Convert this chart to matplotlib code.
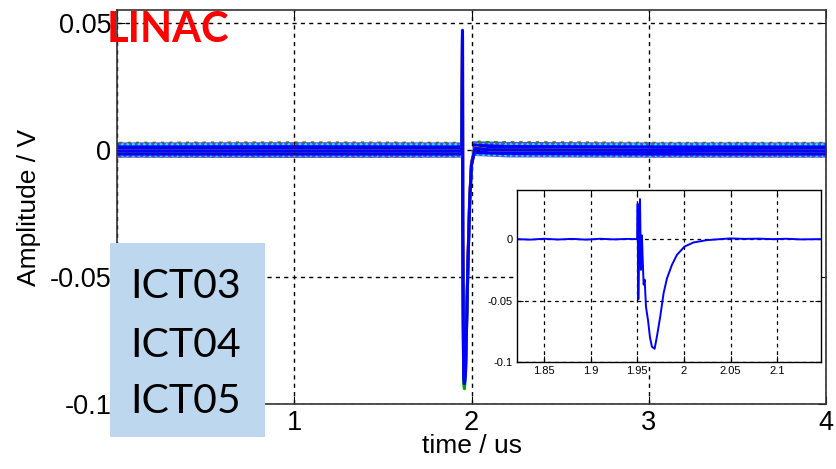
import matplotlib
matplotlib.use("Agg")
import matplotlib.pyplot as plt
from matplotlib.patches import Rectangle

plt.rcParams['font.family'] = ['Liberation Sans', 'DejaVu Sans']
plt.rcParams['hatch.linewidth'] = 1.2

# main traces (time in us, amplitude in V), one per scope channel
t_main = [0.0, 1.945, 1.9492, 1.9505, 1.953, 1.956, 1.960, 1.966, 1.972, 1.980, 1.990, 2.000, 2.02, 2.1, 4.0]
channels = {
    'cyan':    [-0.0005, -0.0005, 0.046, -0.035, -0.062, -0.089, -0.091, -0.087, -0.069, -0.044, -0.019, -0.005, 0.0008, 0.0, -0.0005],
    'red':     [-0.0005, -0.0005, 0.044, -0.032, -0.060, -0.088, -0.090, -0.086, -0.068, -0.043, -0.019, -0.005, 0.0008, 0.0, -0.0005],
    'magenta': [-0.0005, -0.0005, 0.045, -0.033, -0.061, -0.090, -0.092, -0.087, -0.069, -0.044, -0.020, -0.006, 0.0007, 0.0, -0.0005],
    '#00a000': [-0.0005, -0.0005, 0.043, -0.034, -0.063, -0.092, -0.094, -0.089, -0.070, -0.045, -0.020, -0.006, 0.0007, 0.0, -0.0005],
    'blue':    [-0.0005, -0.0005, 0.047, -0.030, -0.060, -0.090, -0.092, -0.088, -0.070, -0.045, -0.020, -0.006, 0.0005, 0.0, -0.0005],
}
hatches = {'cyan': '...', 'red': '..', 'magenta': '. .', '#00a000': '..'}

# noise envelope of the baseline
band_t_pre = [0.0, 1.0, 1.946]
band_t_post = [2.004, 2.2, 3.0, 4.0]
band_hi_pre = [0.0031, 0.0032, 0.0031]
band_lo_pre = [-0.0029, -0.0030, -0.0029]
band_hi_post = [0.0036, 0.0033, 0.0031, 0.0031]
band_lo_post = [-0.0022, -0.0028, -0.0029, -0.0029]
blue_hi_pre = [0.0019, 0.0020, 0.0019]
blue_lo_pre = [-0.0021, -0.0021, -0.0021]
blue_hi_post = [0.0026, 0.0021, 0.0019, 0.0019]
blue_lo_post = [-0.0014, -0.0019, -0.0021, -0.0021]

# zoomed single pulse (inset)
inset_t = [1.821, 1.835, 1.85, 1.865, 1.88, 1.895, 1.91, 1.925, 1.94, 1.950, 1.9504, 1.9507, 1.9511,
           1.9518, 1.9529, 1.9539, 1.955, 1.9557, 1.9568, 1.9579, 1.9593, 1.9615, 1.9636, 1.9657, 1.9686,
           1.9711, 1.9746, 1.9782, 1.9818, 1.9871, 1.9925, 2.0007, 2.0103, 2.0246, 2.0389, 2.05, 2.065,
           2.08, 2.095, 2.11, 2.125, 2.147]
inset_v = [0.0, -0.0004, 0.0003, -0.0003, 0.0002, -0.0004, 0.0003, -0.0002, 0.0002, 0.0, 0.0288, -0.0169, -0.049,
           -0.020, 0.0326, -0.025, 0.0030, -0.014, -0.037, -0.033, -0.055, -0.066, -0.080, -0.0876, -0.0892,
           -0.079, -0.063, -0.044, -0.032, -0.021, -0.0128, -0.006, -0.0027, -0.0008, 0.0, 0.0006, 0.0002,
           0.0004, 0.0, 0.0003, -0.0002, 0.0]

fig = plt.figure(figsize=(8.36, 4.69), dpi=100)
ax = fig.add_axes([117/836, 1-404/469, 709/836, 394/469])

# mixed-colour speckle at the edges of the noise band
for tt, lo, hi in [(band_t_pre, band_lo_pre, band_hi_pre), (band_t_post, band_lo_post, band_hi_post)]:
    ax.fill_between(tt, lo, hi, color='#5050e0', lw=0)
    for c, h in hatches.items():
        ax.fill_between(tt, lo, hi, facecolor='none', edgecolor=c, hatch=h, lw=0)

for c, v in channels.items():
    if c != 'blue':
        ax.plot(t_main, v, color=c, lw=2.2)
ax.fill_between(band_t_pre, blue_lo_pre, blue_hi_pre, color='blue', lw=0)
ax.fill_between(band_t_post, blue_lo_post, blue_hi_post, color='blue', lw=0)
ax.plot(t_main, channels['blue'], color='blue', lw=2.2)

ax.set_xlim(0, 4)
ax.set_ylim(-0.1, 0.055)
ax.set_xticks([0, 1, 2, 3, 4])
ax.set_xticklabels(['0', '1', '2', '3', '4'])
ax.set_yticks([-0.1, -0.05, 0, 0.05])
ax.set_yticklabels(['-0.1', '-0.05', '0', '0.05'])
ax.tick_params(direction='in', labelsize=19.5, length=6, top=True, right=True, pad=4)
ax.grid(True, color='black', linestyle=(0, (3, 3)), lw=1)
for s in ax.spines.values():
    s.set_color('#333333')
    s.set_linewidth(1.2)
ax.set_xlabel('time / us', fontsize=19, labelpad=-1)
ax.set_ylabel('Amplitude / V', fontsize=19, labelpad=6)

axi = fig.add_axes([517/836, 1-362/469, 304/836, 172/469])
axi.plot(inset_t, inset_v, color='blue', lw=1.4)
axi.set_xlim(1.821, 2.147)
axi.set_ylim(-0.1, 0.04)
axi.set_xticks([1.85, 1.9, 1.95, 2.0, 2.05, 2.1])
axi.set_xticklabels(['1.85', '1.9', '1.95', '2', '2.05', '2.1'])
axi.set_yticks([-0.1, -0.05, 0])
axi.set_yticklabels(['-0.1', '-0.05', '0'])
axi.tick_params(direction='in', labelsize=8, length=4, top=True, right=True, pad=3, colors='black')
axi.grid(True, color='black', linestyle=(0, (3, 3)), lw=0.9)
for s in axi.spines.values():
    s.set_color('black')
    s.set_linewidth(1)

fig.patches.append(Rectangle((110/836, 1-437/469), 155/836, 194/469,
                             transform=fig.transFigure, facecolor='#bdd7ee', edgecolor='none', zorder=5))
for lab, yb in zip(['ICT03', 'ICT04', 'ICT05'], [298, 357, 413]):
    fig.text(130/836, 1-yb/469, lab, fontsize=29.5, family='Lato', va='baseline', ha='left', zorder=6)
fig.text(107/836, 1-42/469, 'LINAC', fontsize=30, family='Lato', weight='bold', color='red',
         va='baseline', ha='left', zorder=6)

fig.savefig('out.png', dpi=100)
